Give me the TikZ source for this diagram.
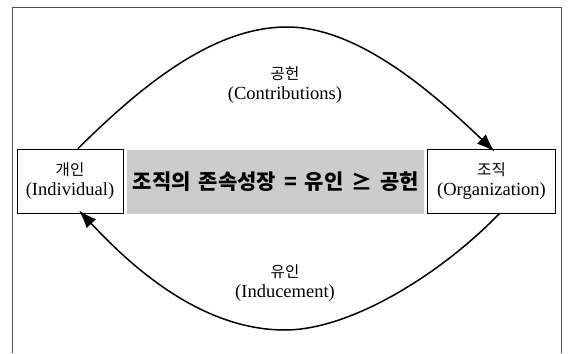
\documentclass[tikz,border=0pt]{standalone}
\usepackage{fontspec}
\setmainfont{Liberation Serif}
\newfontfamily\kr{Noto Sans CJK KR}
\usetikzlibrary{arrows.meta}
\begin{document}
\begin{tikzpicture}[x=1pt,y=-1pt,
  lat/.style={font=\fontsize{18.5}{20}\selectfont},
  agent/.style={draw,line width=0.9pt,minimum width=106pt,minimum height=64pt,inner sep=0pt,align=center,lat},
  lbl/.style={align=center,inner sep=0pt,lat},
  arc/.style={line width=1.5pt,-{Latex[length=18pt,width=13pt]}}
]
\newcommand\krl[1]{{\kr\fontsize{15.5}{20}\selectfont #1}}
\useasboundingbox (0,0) rectangle (569,353);
% outer frame
\draw[line width=0.8pt,black!70] (12,353) -- (12,7) -- (561,7) -- (561,353);
% gray band
\fill[black!20] (127,150) rectangle (424,214);
% boxes
\node[agent] (ind) at (70,181) {\krl{개인}\\(Individual)};
\node[agent,minimum width=128pt] (org) at (491.5,181) {\krl{조직}\\(Organization)};
% center text
\node[inner sep=0pt] (eq) at (276,182) {\kr\bfseries\fontsize{21}{23}\selectfont 조직의\hspace{8pt}존속성장\hspace{8pt}=\hspace{8pt}유인\hspace{8pt}≥\hspace{8pt}공헌};
% labels
\node[lbl] (contr) at (285,85) {\krl{공헌}\\(Contributions)};
\node[lbl] (induc) at (285,283) {\krl{유인}\\(Inducement)};
% arcs
\draw[arc] ([xshift=8pt]ind.north) .. controls (148,79) and (217,27) .. (287,27)
  .. controls (357,27) and (430,90) .. ([xshift=3pt,yshift=-3pt]org.north);
\draw[arc] ([xshift=8pt]org.south) .. controls (440,275) and (350,330) .. (285,330)
  .. controls (200,330) and (130,265) .. ([xshift=9pt,yshift=3pt]ind.south);
\end{tikzpicture}
\end{document}
